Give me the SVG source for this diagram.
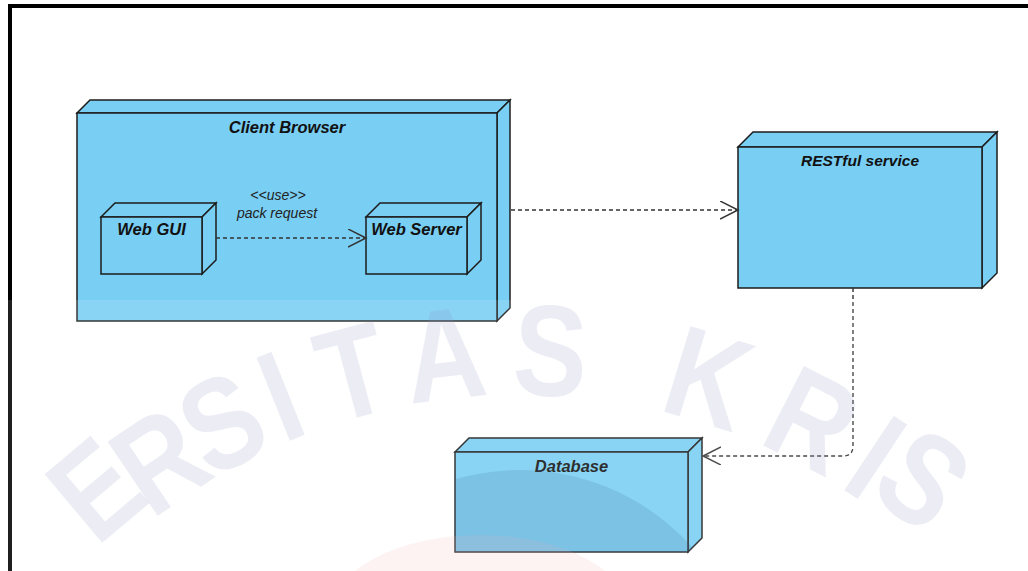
<svg xmlns="http://www.w3.org/2000/svg" width="1028" height="571" viewBox="0 0 1028 571">
  <style>
    .face { fill: #79CEF3; stroke: #1c1c1c; stroke-width: 1.5; stroke-linejoin: miter; }
    .title { font-family: "Liberation Sans", Arial, sans-serif; font-weight: bold; font-style: italic; font-size: 16.5px; fill: #111; text-anchor: middle; }
    .lbl { font-family: "Liberation Sans", Arial, sans-serif; font-style: italic; font-size: 14px; fill: #222; text-anchor: middle; }
    .dep { fill: none; stroke: #333; stroke-width: 1.4; stroke-dasharray: 4 3; }
    .wm { font-family: "Liberation Sans", Arial, sans-serif; font-weight: bold; font-size: 130px; fill: #8e90c4; fill-opacity: 0.17; text-anchor: middle; }
  </style>
  <defs>
    <marker id="open" markerUnits="userSpaceOnUse" markerWidth="22" markerHeight="22" refX="18" refY="9" orient="auto">
      <path d="M0,0 L18,9 L0,18" fill="none" stroke="#333" stroke-width="1.5"/>
    </marker>
    <clipPath id="db-shape">
      <path d="M455,452 L469,438 L702,438 L702,538 L688,552 L455,552 Z"/>
    </clipPath>
  </defs>

  <rect width="1028" height="571" fill="#ffffff"/>

  <!-- frame -->
  <path d="M8,6 H1028 M10,4 V571" fill="none" stroke="#000" stroke-width="4"/>

  <!-- Client Browser -->
  <g id="client-browser">
    <path class="face" d="M77,113 L90,100 L510,100 L497,113 Z"/>
    <path class="face" d="M497,113 L510,100 L510,308 L497,321 Z"/>
    <rect class="face" x="77" y="113" width="420" height="208"/>
    <text class="title" x="287" y="133">Client Browser</text>
  </g>

  <!-- Web GUI -->
  <g id="web-gui">
    <path class="face" d="M101,217 L115,203 L216,203 L202,217 Z"/>
    <path class="face" d="M202,217 L216,203 L216,260 L202,274 Z"/>
    <rect class="face" x="101" y="217" width="101" height="57"/>
    <text class="title" x="151.5" y="235">Web GUI</text>
  </g>

  <!-- Web Server -->
  <g id="web-server">
    <path class="face" d="M366,217 L380,203 L481,203 L467,217 Z"/>
    <path class="face" d="M467,217 L481,203 L481,260 L467,274 Z"/>
    <rect class="face" x="366" y="217" width="101" height="57"/>
    <text class="title" x="416.5" y="235">Web Server</text>
  </g>

  <!-- RESTful service -->
  <g id="restful-service">
    <path class="face" d="M738,147 L753,132 L997,132 L982,147 Z"/>
    <path class="face" d="M982,147 L997,132 L997,273 L982,288 Z"/>
    <rect class="face" x="738" y="147" width="244" height="141"/>
    <text class="title" x="860" y="166" style="font-size:15.5px">RESTful service</text>
  </g>

  <!-- Database -->
  <g id="database">
    <path class="face" d="M455,452 L469,438 L702,438 L688,452 Z"/>
    <path class="face" d="M688,452 L702,438 L702,538 L688,552 Z"/>
    <rect class="face" x="455" y="452" width="233" height="100"/>
    <text class="title" x="571.5" y="472">Database</text>
  </g>

  <!-- dependencies -->
  <g id="connectors">
    <line class="dep" x1="216" y1="238" x2="366" y2="238" marker-end="url(#open)"/>
    <text class="lbl" x="278" y="200">&lt;&lt;use&gt;&gt;</text>
    <text class="lbl" x="277" y="218">pack request</text>
    <line class="dep" x1="511" y1="210" x2="738" y2="210" marker-end="url(#open)"/>
    <path class="dep" d="M853,288 V446 Q853,456 843,456 H703" marker-end="url(#open)"/>
  </g>

  <!-- background seal printed over the page -->
  <g id="seal">
    <rect x="0" y="300" width="1028" height="271" fill="#ffffff" fill-opacity="0.12"/>
    <circle cx="520" cy="700" r="230" fill="#2f5f95" fill-opacity="0.15" clip-path="url(#db-shape)"/>
    <ellipse cx="480" cy="615" rx="150" ry="80" fill="#f2b0b0" fill-opacity="0.15"/>
    <g class="wm">
      <text transform="rotate(-40 520 995) translate(520 380) scale(0.85 1)">E</text>
      <text transform="rotate(-34 520 995) translate(520 395) scale(0.85 1)">R</text>
      <text transform="rotate(-27.5 520 995) translate(520 395) scale(0.85 1)">S</text>
      <text transform="rotate(-21.8 520 995) translate(520 395) scale(0.85 1)">I</text>
      <text transform="rotate(-15 520 995) translate(520 395) scale(0.85 1)">T</text>
      <text transform="rotate(-6.7 520 995) translate(520 395) scale(0.85 1)">A</text>
      <text transform="rotate(2.7 520 995) translate(520 395) scale(0.85 1)">S</text>
      <text transform="rotate(17 520 995) translate(520 395) scale(0.85 1)">K</text>
      <text transform="rotate(27 520 995) translate(520 395) scale(0.85 1)">R</text>
      <text transform="rotate(33.5 520 995) translate(520 395) scale(0.85 1)">I</text>
      <text transform="rotate(38 520 995) translate(520 385) scale(0.85 1)">S</text>
    </g>
  </g>
</svg>
